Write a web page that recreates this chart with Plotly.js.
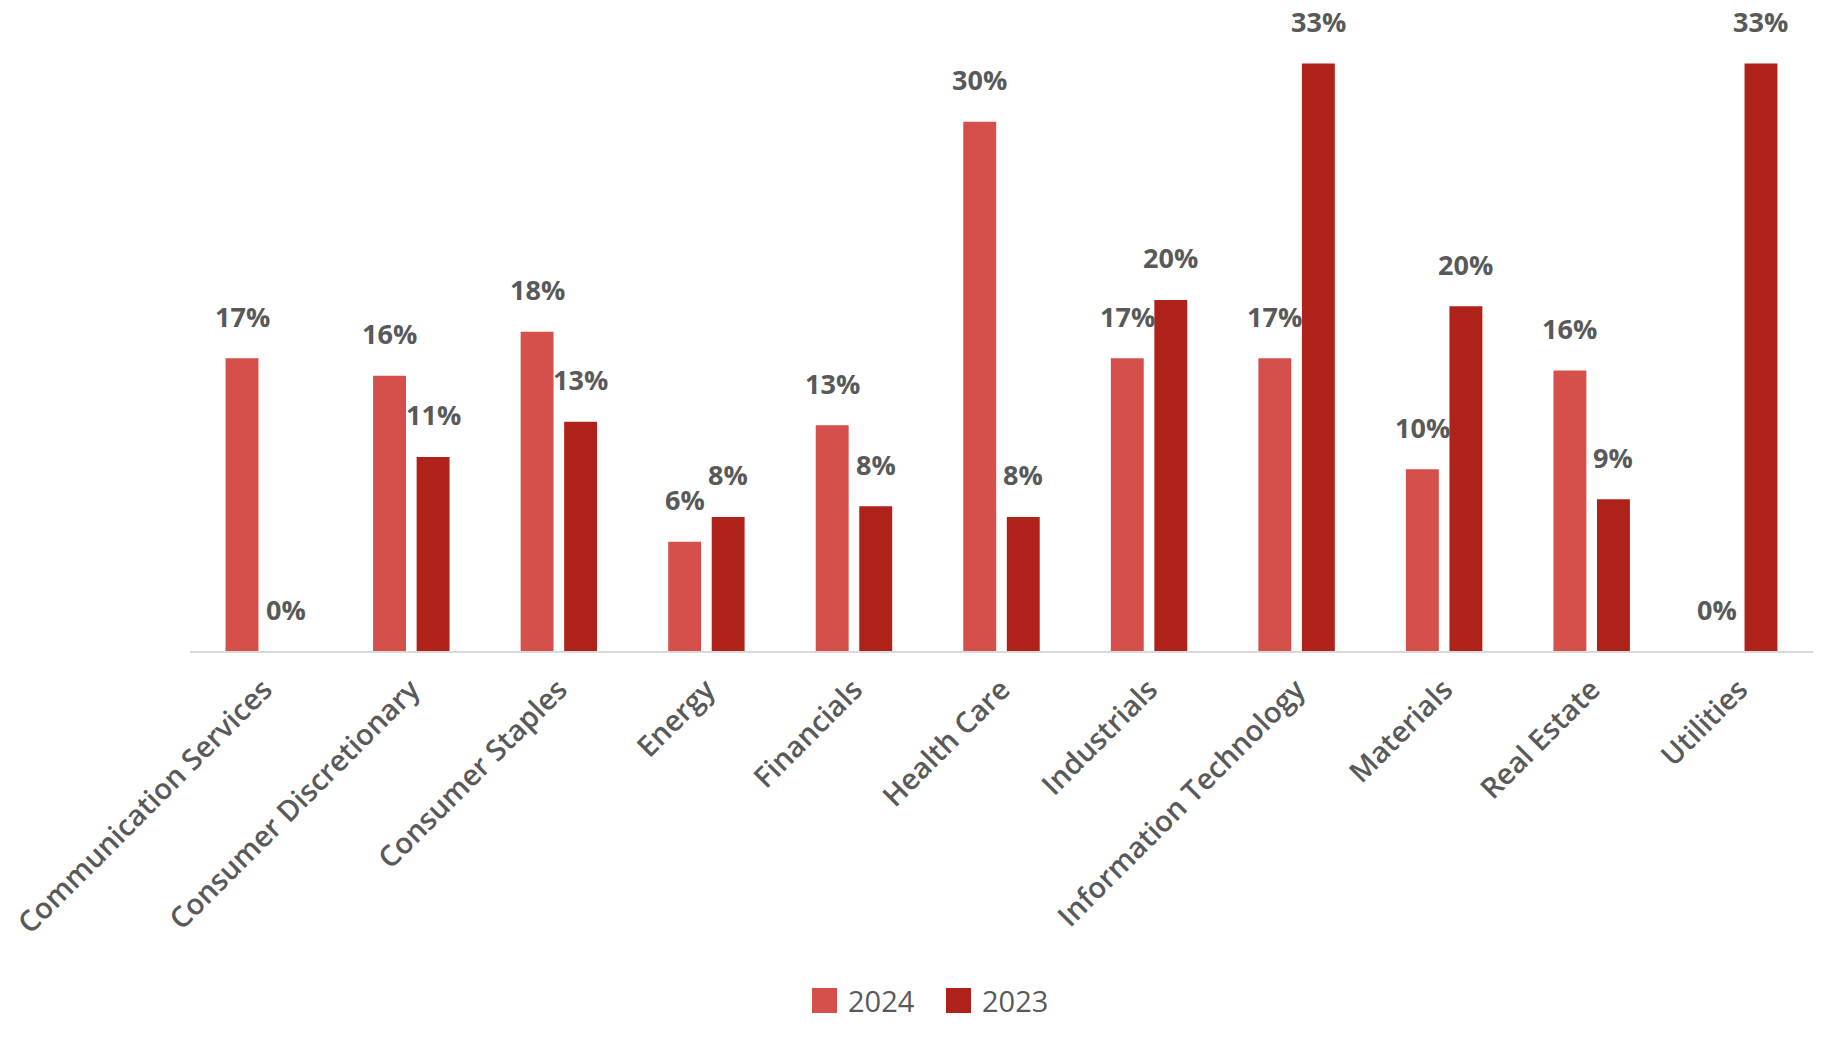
<!DOCTYPE html>
<html>
<head>
<meta charset="utf-8">
<script src="https://cdn.plot.ly/plotly-3.0.1.min.js"></script>
<style>
  html, body { margin: 0; padding: 0; background: #ffffff; }
  #chart { width: 1840px; height: 1048px; }
</style>
</head>
<body>
<div id="chart"></div>
<script>
// Sector weights by year
const sectors = [
  'Communication Services', 'Consumer Discretionary', 'Consumer Staples', 'Energy',
  'Financials', 'Health Care', 'Industrials', 'Information Technology',
  'Materials', 'Real Estate', 'Utilities'
];
const share2024 = [0.166, 0.156, 0.181, 0.062, 0.128, 0.300, 0.166, 0.166, 0.103, 0.159, 0.000];
const share2023 = [0.000, 0.110, 0.130, 0.076, 0.082, 0.076, 0.199, 0.333, 0.1955, 0.086, 0.333];
const seriesNames = ['2024', '2023'];

const colors = ['#D5504A', '#AF2219'];
const textGrey = '#595959';
const fontFamily = '"Open Sans", "Noto Sans", sans-serif';

// Plot frame in pixels
const W = 1840, H = 1048;
const M = { l: 190, r: 27, t: 20, b: 397 };
const plotW = W - M.l - M.r;
const plotH = H - M.t - M.b;
const px2x = px => (px - M.l) / plotW;
const py2y = py => (H - M.b - py) / plotH;

const bargap = 0.41, bargroupgap = 0.244;
const catW = plotW / sectors.length;
const slotW = catW * (1 - bargap) / 2;

const series = [share2024, share2023];
const traces = series.map((vals, s) => ({
  type: 'bar',
  name: seriesNames[s],
  x: sectors,
  y: vals,
  marker: { color: colors[s] },
  showlegend: false,
  hoverinfo: 'x+y'
}));

// Value labels above each bar
const annotations = [];
series.forEach((vals, s) => {
  vals.forEach((v, i) => {
    annotations.push({
      x: sectors[i], y: v, xref: 'x', yref: 'y',
      text: Math.round(v * 100) + '%',
      showarrow: false,
      xanchor: 'center', yanchor: 'middle',
      xshift: (s === 0 ? -1 : 1) * slotW / 2,
      yshift: 42,
      font: { family: fontFamily, size: 27, color: textGrey, weight: 700 }
    });
  });
});

// Legend: swatch + series name
const legendItems = [
  { sq: 812, tx: 846 },
  { sq: 946, tx: 980 }
];
const shapes = [];
legendItems.forEach((it, s) => {
  shapes.push({
    type: 'rect', xref: 'paper', yref: 'paper',
    x0: px2x(it.sq), x1: px2x(it.sq + 25),
    y0: py2y(988), y1: py2y(1013),
    fillcolor: colors[s], line: { width: 0 }
  });
  annotations.push({
    xref: 'paper', yref: 'paper',
    x: px2x(it.tx), y: py2y(1000),
    xanchor: 'left', yanchor: 'middle',
    text: seriesNames[s], showarrow: false,
    font: { family: fontFamily, size: 29, color: textGrey }
  });
});

const layout = {
  width: W, height: H,
  margin: M,
  paper_bgcolor: '#ffffff',
  plot_bgcolor: '#ffffff',
  barmode: 'group',
  bargap: bargap,
  bargroupgap: bargroupgap,
  showlegend: false,
  font: { family: fontFamily, color: textGrey },
  xaxis: {
    type: 'category',
    tickangle: -45,
    showline: true,
    linecolor: '#D9D9D9',
    linewidth: 2,
    ticks: '',
    showgrid: false,
    zeroline: false,
    ticklabelstandoff: 8,
    tickfont: { family: fontFamily, size: 29, color: textGrey, weight: 600 }
  },
  yaxis: {
    range: [0, 0.3577],
    showticklabels: false,
    showgrid: false,
    zeroline: false,
    showline: false,
    ticks: ''
  },
  annotations: annotations,
  shapes: shapes
};

Plotly.newPlot('chart', traces, layout, { displayModeBar: false, staticPlot: true });
</script>
</body>
</html>
